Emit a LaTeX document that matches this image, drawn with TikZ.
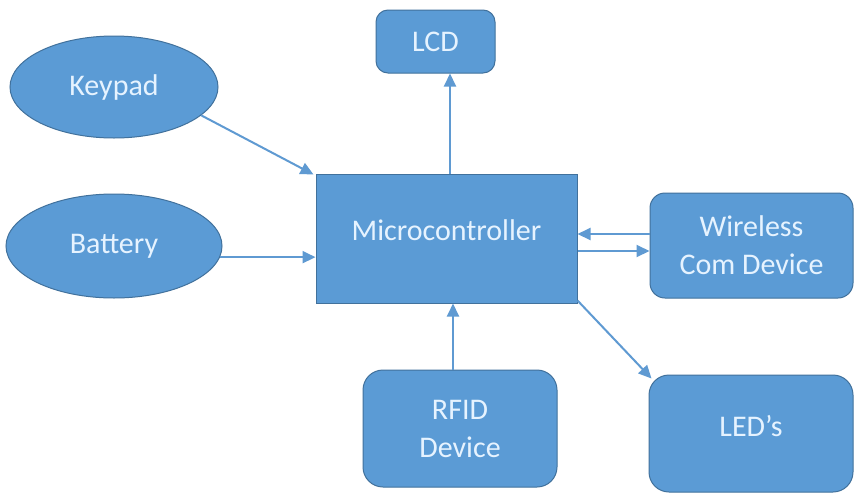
\documentclass[tikz,border=0pt]{standalone}
\usepackage{fontspec}
\setmainfont{Carlito}
\usetikzlibrary{arrows.meta,shapes.geometric,calc}
\definecolor{boxfill}{HTML}{5B9BD5}
\definecolor{boxedge}{HTML}{41719C}
\definecolor{txt}{HTML}{E6F3FF}
\definecolor{arr}{HTML}{5F9AD2}
\begin{document}
\begin{tikzpicture}[x=1pt,y=-1pt,
  blk/.style={draw=boxedge, line width=1pt, fill=boxfill, text=txt,
    font=\fontsize{30}{38}\selectfont, align=center, inner sep=0pt},
  rbox/.style={blk, rectangle, rounded corners=#1},
  oval/.style={blk, ellipse},
  conn/.style={draw=arr, line width=2pt, -{Triangle[length=13pt,width=12pt]}}
]
\useasboundingbox (0,0) rectangle (854,493);
\fill[white] (0,0) rectangle (854,493);

\node[rbox=12pt, minimum width=119pt, minimum height=63pt] (lcd) at (435.5,41.5) {LCD};
\node[blk, rectangle, minimum width=261pt, minimum height=129pt] (mc) at (446.5,238.5) {\raisebox{16pt}{Microcontroller}};
\node[rbox=15pt, minimum width=203pt, minimum height=105pt] (wl) at (751.5,245.5) {Wireless\\Com Device};
\node[rbox=20pt, minimum width=204pt, minimum height=117pt] (led) at (751,433.5) {\raisebox{16pt}{LED’s}};
\node[rbox=20pt, minimum width=194pt, minimum height=117pt] (rfid) at (460,428.5) {RFID\\Device};
\node[oval, minimum width=208pt, minimum height=102pt] (kp) at (114,87) {\raisebox{3pt}{Keypad}};
\node[oval, minimum width=216pt, minimum height=104pt] (bat) at (114,246) {\raisebox{3pt}{Battery}};

\coordinate (lcdx) at (450,0);
\coordinate (rfx) at (453,0);
\coordinate (wlup) at (0,234);
\coordinate (wldn) at (0,251);

\draw[conn] (kp.-18) -- ($(mc.north west)+(-2,1)$);
\draw[conn] (bat.-6) -- (mc.west |- bat.-6);
\draw[conn] (mc.north -| lcdx) -- (lcd.south -| lcdx);
\draw[conn] (rfid.north -| rfx) -- (mc.south -| rfx);
\draw[conn] (wl.west |- wlup) -- (mc.east |- wlup);
\draw[conn] (mc.east |- wldn) -- (wl.west |- wldn);
\draw[conn] ($(mc.south east)+(0,-3)$) -- ($(led.north west)+(3,4)$);
\end{tikzpicture}
\end{document}
